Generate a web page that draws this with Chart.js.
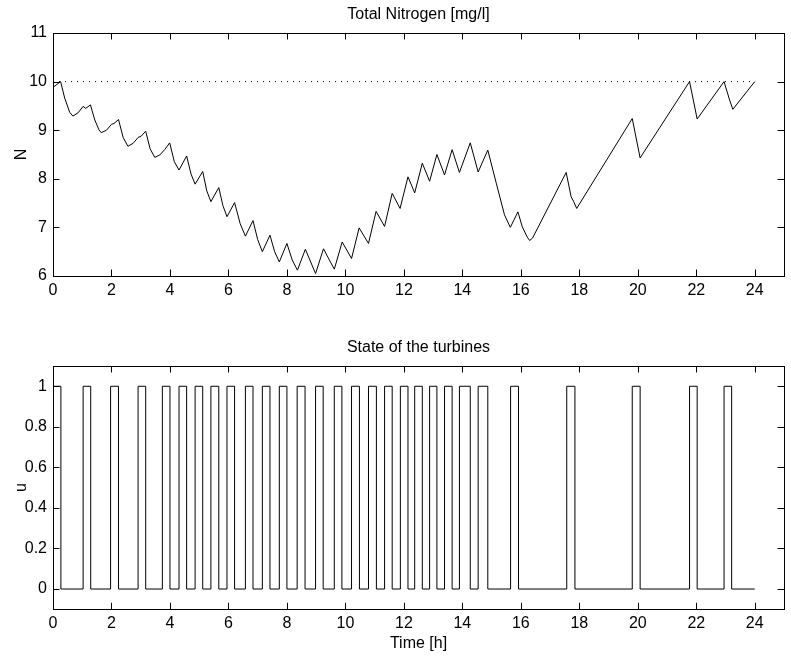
<!DOCTYPE html>
<html>
<head>
<meta charset="utf-8">
<script src="https://cdn.jsdelivr.net/npm/chart.js@4.4.1/dist/chart.umd.min.js"></script>
<style>
    html, body { margin: 0; padding: 0; background: #fff; }
    #wrap { position: relative; width: 791px; height: 666px; }
    canvas { position: absolute; left: 0; }
    #nChart { top: 0; }
    #uChart { top: 328px; }
</style>
</head>
<body>
<div id="wrap">
    <canvas id="nChart" width="791" height="328"></canvas>
    <canvas id="uChart" width="791" height="338"></canvas>
</div>
<script>
// Total nitrogen (time in hours, N in mg/l)
const nTime = [
    0, 0.26, 0.40, 0.57, 0.68, 0.86, 1.03, 1.12, 1.28, 1.43, 1.57, 1.65, 1.83, 2.00, 2.09, 2.24,
    2.40, 2.56, 2.74, 2.91, 3.02, 3.17, 3.32, 3.48, 3.65, 3.82, 3.99, 4.15, 4.31, 4.57, 4.72, 4.86,
    5.12, 5.26, 5.40, 5.67, 5.81, 5.95, 6.21, 6.40, 6.58, 6.84, 7.00, 7.16, 7.42, 7.58, 7.74, 8.00,
    8.18, 8.36, 8.63, 8.98, 9.25, 9.62, 9.89, 10.21, 10.47, 10.79, 11.05, 11.34, 11.60, 11.87, 12.14,
    12.37, 12.63, 12.88, 13.13, 13.39, 13.65, 13.90, 14.27, 14.54, 14.87, 15.16, 15.44, 15.64, 15.90,
    16.05, 16.22, 16.30, 16.40, 17.55, 17.72, 17.80, 17.91, 19.81, 20.08, 21.77, 22.03, 22.95, 23.14,
    23.25, 24.00
];
const nValue = [
    9.88, 10.0, 9.66, 9.37, 9.29, 9.36, 9.49, 9.45, 9.52, 9.21, 9.01, 8.95, 9.00, 9.12, 9.14, 9.22,
    8.85, 8.67, 8.73, 8.85, 8.88, 8.98, 8.62, 8.44, 8.49, 8.60, 8.74, 8.35, 8.18, 8.47, 8.10, 7.89,
    8.15, 7.75, 7.53, 7.82, 7.45, 7.22, 7.51, 7.08, 6.82, 7.14, 6.75, 6.50, 6.84, 6.50, 6.29, 6.67,
    6.33, 6.12, 6.55, 6.05, 6.56, 6.14, 6.70, 6.36, 6.99, 6.67, 7.33, 7.02, 7.70, 7.39, 8.04,
    7.71, 8.32, 7.95, 8.50, 8.08, 8.60, 8.13, 8.74, 8.14, 8.59, 7.91, 7.26, 7.00, 7.32,
    7.01, 6.80, 6.73, 6.78, 8.13, 7.63, 7.54, 7.39, 9.24, 8.43, 10.0, 9.23, 10.0, 9.62,
    9.43, 10.0
];
const nLimit = 10;

// Turbine switching times (u = 1 between on and off)
const onTimes = [0, 1.03, 1.97, 2.91, 3.74, 4.31, 4.86, 5.40, 5.95, 6.58, 7.16, 7.74, 8.35, 8.98, 9.62,
    10.21, 10.79, 11.34, 11.88, 12.37, 12.88, 13.39, 13.90, 14.54, 15.65, 17.57, 19.81, 21.77, 22.95];
const offTimes = [0.27, 1.29, 2.24, 3.17, 4.00, 4.57, 5.12, 5.67, 6.21, 6.84, 7.42, 8.00, 8.62, 9.24, 9.88,
    10.48, 11.06, 11.60, 12.14, 12.63, 13.13, 13.65, 14.27, 14.87, 15.92, 17.85, 20.08, 22.03, 23.21];
const endTime = 24;

const xTicks = [0, 2, 4, 6, 8, 10, 12, 14, 16, 18, 20, 22, 24];
const nTicks = [6, 7, 8, 9, 10, 11];
const uTicks = [0, 0.2, 0.4, 0.6, 0.8, 1];

Chart.defaults.font.family = '"Liberation Sans", Arial, Helvetica, sans-serif';
Chart.defaults.font.size = 16;
Chart.defaults.color = '#000';

// matlab style box + inward ticks on all four sides
const boxPlugin = {
    id: 'box',
    afterDatasetsDraw(chart) {
        const { ctx, chartArea: a, scales: { x, y } } = chart;
        const L = 6.5;
        ctx.save();
        ctx.strokeStyle = '#000';
        ctx.lineWidth = 1;
        ctx.beginPath();
        x.ticks.forEach(t => {
            const px = Math.round(x.getPixelForValue(t.value)) + 0.5;
            ctx.moveTo(px, a.bottom); ctx.lineTo(px, a.bottom - L);
            ctx.moveTo(px, a.top); ctx.lineTo(px, a.top + L);
        });
        y.ticks.forEach(t => {
            const py = Math.round(y.getPixelForValue(t.value)) + 0.5;
            ctx.moveTo(a.left, py); ctx.lineTo(a.left + L, py);
            ctx.moveTo(a.right, py); ctx.lineTo(a.right - L, py);
        });
        ctx.stroke();
        ctx.strokeRect(Math.round(a.left) + 0.5, Math.round(a.top) + 0.5,
            Math.round(a.right - a.left), Math.round(a.bottom - a.top));
        ctx.restore();
    }
};

function makeOptions(cfg) {
    return {
        responsive: false,
        animation: false,
        devicePixelRatio: 1,
        layout: { padding: { left: 0, right: 7, top: 0, bottom: 0 } },
        plugins: {
            legend: { display: false },
            tooltip: { enabled: false },
            title: {
                display: true, text: cfg.title, color: '#000', fullSize: false,
                font: { size: 16, weight: 'normal' },
                padding: { top: cfg.titleTop, bottom: cfg.titleBottom }
            }
        },
        scales: {
            x: {
                type: 'linear', min: 0, max: 25,
                grid: { display: false, drawTicks: false },
                border: { display: false },
                ticks: { padding: 5, maxRotation: 0 },
                afterBuildTicks: s => { s.ticks = xTicks.map(v => ({ value: v })); },
                afterFit: s => { s.height = cfg.xHeight; },
                title: cfg.xTitle ? { display: true, text: cfg.xTitle, padding: { top: 0, bottom: 12.7 } } : { display: false }
            },
            y: {
                min: cfg.yMin, max: cfg.yMax,
                grid: { display: false, drawTicks: false },
                border: { display: false },
                ticks: { padding: 6, callback: v => String(v) },
                afterBuildTicks: s => { s.ticks = cfg.yTicks.map(v => ({ value: v })); },
                afterFit: s => { s.width = 53; },
                title: { display: true, text: cfg.yTitle, padding: { top: 12, bottom: 0 } }
            }
        }
    };
}

new Chart(document.getElementById('nChart'), {
    type: 'line',
    data: {
        datasets: [
            {
                data: [{ x: 0, y: nLimit }, { x: endTime, y: nLimit }],
                borderColor: '#000', borderWidth: 1, borderDash: [1, 5],
                pointRadius: 0, tension: 0
            },
            {
                data: nTime.map((t, i) => ({ x: t, y: nValue[i] })),
                borderColor: '#000', borderWidth: 1, pointRadius: 0, tension: 0
            }
        ]
    },
    options: makeOptions({
        title: 'Total Nitrogen [mg/l]', titleTop: 5, titleBottom: 8.8,
        xHeight: 52, yMin: 6, yMax: 11, yTicks: nTicks, yTitle: 'N'
    }),
    plugins: [boxPlugin]
});

// stepped turbine state
const uPoints = [];
onTimes.forEach((t, i) => {
    uPoints.push({ x: t, y: 1 });
    uPoints.push({ x: offTimes[i], y: 0 });
});
uPoints.push({ x: endTime, y: 0 });

new Chart(document.getElementById('uChart'), {
    type: 'line',
    data: {
        datasets: [{
            data: uPoints,
            borderColor: '#000', borderWidth: 1, pointRadius: 0,
            stepped: 'before'
        }]
    },
    options: makeOptions({
        title: 'State of the turbines', titleTop: 10, titleBottom: 8.8,
        xHeight: 56.7, yMin: -0.1, yMax: 1.1, yTicks: uTicks, yTitle: 'u',
        xTitle: 'Time [h]'
    }),
    plugins: [boxPlugin]
});
</script>
</body>
</html>
